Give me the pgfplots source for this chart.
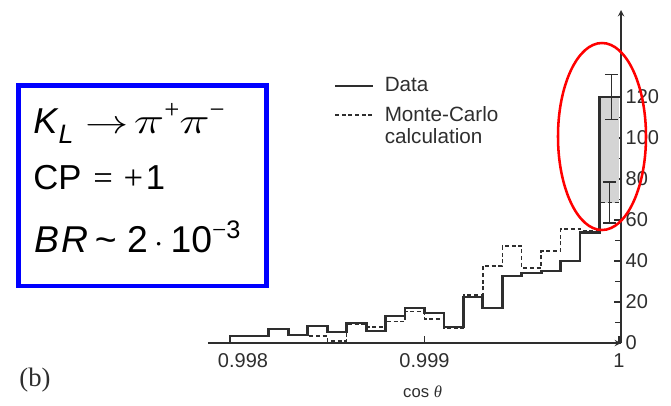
\documentclass[border=0pt]{standalone}
\usepackage{fontspec}
\setmainfont{Liberation Sans}
\newfontfamily\serif{Liberation Serif}
\usepackage{graphicx}
\usepackage{pgfplots}
\pgfplotsset{compat=1.18}

\definecolor{ink}{HTML}{2E2E2E}

\begin{document}
\begin{tikzpicture}
\begin{axis}[
    at={(0,0)}, anchor=south west,
    scale only axis,
    width=309.75pt, height=249.75pt,
    xmin=0.9978869, xmax=1.0000103,
    ymin=0, ymax=162.4,
    axis x line=bottom, axis y line=right,
    axis line style={ink, line width=1.1pt},
    tick align=inside,
    scaled x ticks=false,
    xtick={0.998,0.999,1}, xticklabels={\hspace*{19.5pt}0.998,0.999,1},
    ytick={0,20,...,120}, minor ytick={10,30,...,110},
    major tick length=5pt, minor tick length=4.5pt,
    tick style={ink, line width=0.9pt},
    ticklabel style={font=\fontsize{15}{15}\selectfont, text=ink},
    xticklabel style={yshift=-4.5pt},
    /pgf/number format/assume math mode=true,
    xlabel={cos {\serif\itshape θ}},
    xlabel style={at={(rel axis cs:0.5196,0)}, anchor=base, yshift=-40.5pt,
                  font=\fontsize{12.5}{12.5}\selectfont, text=ink},
    legend style={at={(rel axis cs:0.305,0.806)}, anchor=north west,
                  draw=none, fill=none, inner sep=0pt, row sep=5.5pt,
                  font=\fontsize{15.5}{16.5}\selectfont, text=ink,
                  cells={anchor=west}},
    legend image code/.code={\draw[#1] (0pt,0pt) -- (28.5pt,0pt); \path (34.5pt,0pt);},
    reverse legend,
    clip=false,
]
% excess in the last bin
\addplot[fill=black!17, draw=none, forget plot]
  coordinates {(0.9999,68.5) (1,68.5) (1,120) (0.9999,120)} -- cycle;

% Monte-Carlo
\addplot[const plot, ink, line width=1.1pt, dash pattern=on 3pt off 2pt]
  coordinates {
  (0.9980,3.4) (0.9981,3.4) (0.9982,6.8) (0.9983,3.9) (0.9984,3.4)
  (0.9985,1.0) (0.9986,9.0) (0.9987,7.8) (0.9988,10.4) (0.9989,15.3)
  (0.9990,11.6) (0.9991,7.3) (0.9992,23.4) (0.9993,37.6) (0.9994,47.3)
  (0.9995,36.6) (0.9996,44.9) (0.9997,55.6) (0.9998,54.8) (0.9999,68.5)
  (1.0000,68.5)};
\addlegendentry{\begin{tabular}[t]{@{}l@{}}Monte-Carlo\\calculation\end{tabular}}

% Data
\addplot[const plot, ink, line width=2.1pt, legend image post style={line width=1.4pt}]
  coordinates {
  (0.9980,0) (0.9980,3.4) (0.9981,3.4) (0.9982,6.8) (0.9983,3.9) (0.9984,8.3)
  (0.9985,5.4) (0.9986,9.8) (0.9987,5.9) (0.9988,13.2) (0.9989,17.1)
  (0.9990,14.6) (0.9991,7.8) (0.9992,22.4) (0.9993,17.1) (0.9994,32.7)
  (0.9995,34.1) (0.9996,35.1) (0.9997,40.0) (0.9998,53.7) (0.9999,120.0)
  (1.0000,120.0)};
\addlegendentry{Data}

% errors in the last bin
\addplot[draw=none, forget plot,
  error bars/.cd, y dir=both, y explicit,
  error bar style={draw=ink, solid, line width=0.9pt},
  error mark options={rotate=90, mark size=4.8pt, draw=ink, line width=0.9pt}]
  coordinates {(0.99996,120) +- (0,11) (0.99995,68.5) +- (0,10)};
\end{axis}

\begin{scope}[x=0.75pt, y=-0.75pt, shift={(-208,-343)}]
  \draw[red, line width=1.9pt] (602,136.5) ellipse [x radius=44, y radius=93.5];
  \draw[blue, line width=3.4pt] (18.5,85.5) rectangle (266.5,286);
  \node[anchor=base west, inner sep=0, font=\fontsize{27}{27}\selectfont] at (33,133)
    {{\itshape K}\hspace{1pt}\raisebox{-8pt}{\fontsize{20}{20}\selectfont\itshape L}\hspace{9pt}%
     \scalebox{1.3}[1]{$\rightarrow$}\hspace{4pt}%
     \scalebox{1.55}[1.1]{$\pi$}\raisebox{11pt}{\fontsize{20}{20}\selectfont\serif +}%
     \scalebox{1.55}[1.1]{$\pi$}\raisebox{11pt}{\fontsize{20}{20}\selectfont\serif −}};
  \node[anchor=base west, inner sep=0, font=\fontsize{26}{26}\selectfont] at (33,189)
    {CP\hspace{9pt}{\serif =}\hspace{8pt}{\serif +}\hspace{2pt}1};
  \node[anchor=base west, inner sep=0, font=\fontsize{28}{28}\selectfont] at (34,252)
    {\textit{B\kern1.5ptR}\hspace{5pt}\textasciitilde\hspace{8pt}2\hspace{5pt}$\cdot$\hspace{5pt}10%
     \raisebox{10pt}{\fontsize{19}{19}\selectfont{\serif −}3}};
  \node[anchor=center, inner sep=0, font=\serif\fontsize{20}{20}\selectfont, text=ink] at (35,380) {(b)};
  \pgfresetboundingbox
  \path (0,0) rectangle (671,405);
\end{scope}
\end{tikzpicture}
\end{document}
